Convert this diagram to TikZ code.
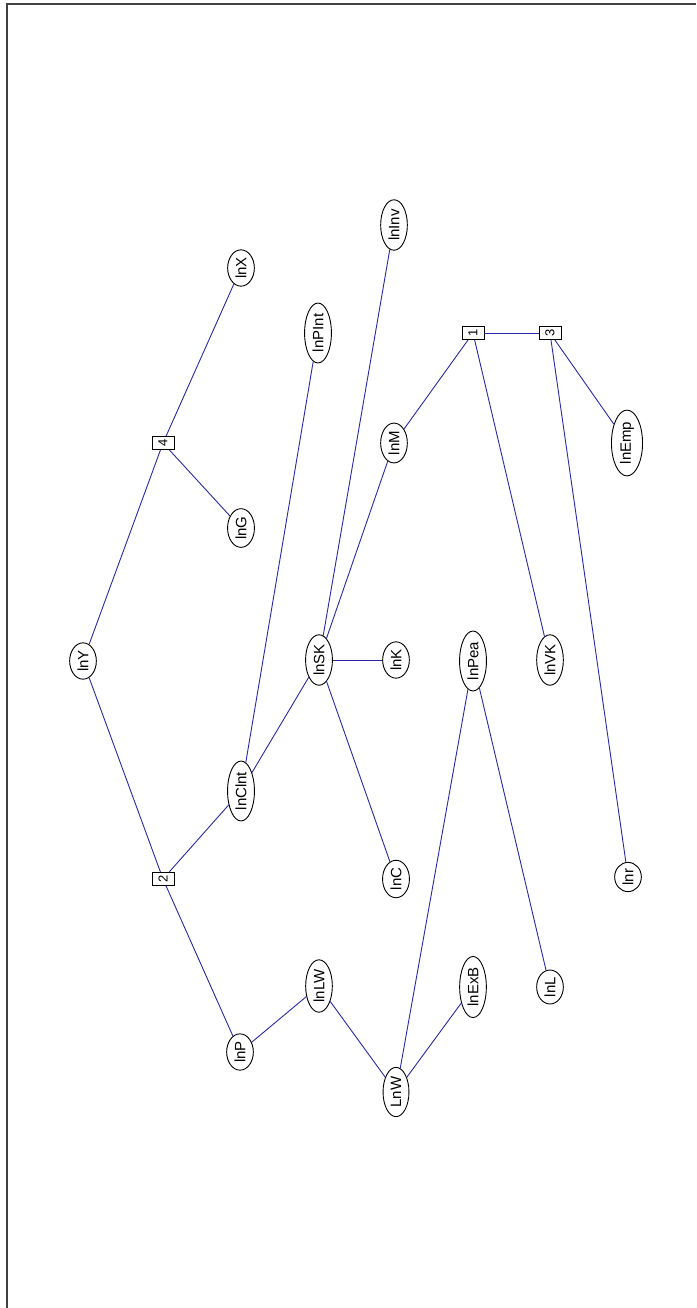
\documentclass[tikz,border=0pt]{standalone}
\usepackage{fontspec}
\setmainfont{Liberation Sans}
\usetikzlibrary{shapes.geometric}
\definecolor{edgeblue}{RGB}{40,40,170}
\begin{document}
\begin{tikzpicture}[x=1pt,y=1pt,
  var/.style={ellipse,draw=black,line width=0.9pt,rotate=90,inner xsep=2pt,inner ysep=4pt,font=\fontsize{15}{17}\selectfont,fill=white},
  fac/.style={rectangle,draw=black,line width=0.9pt,rotate=90,minimum width=13pt,minimum height=22pt,inner sep=0pt,font=\fontsize{13}{15}\selectfont,fill=white},
  link/.style={draw=edgeblue,line width=0.9pt}]
\useasboundingbox (0,0) rectangle (696,-1308);
\draw[line width=1.5pt,black!75] (7,-1308) -- (7,-4) -- (696,-4);
% nodes
\node[var] (lnX) at (241,-268) {lnX};
\node[fac] (f4) at (163,-443) {4};
\node[var] (lnG) at (241,-528) {lnG};
\node[var] (lnY) at (83,-661) {lnY};
\node[fac] (f2) at (163,-879) {2};
\node[var] (lnClnt) at (241,-791) {lnClnt};
\node[var] (lnPInt) at (318,-333) {lnPInt};
\node[var] (lnInv) at (394,-225) {lnInv};
\node[var] (lnM) at (394,-443) {lnM};
\node[var] (lnSK) at (319,-660) {lnSK};
\node[var] (lnK) at (396,-660) {lnK};
\node[var] (lnC) at (396,-879) {lnC};
\node[var] (lnPea) at (473,-661) {lnPea};
\node[var] (lnVK) at (550,-660) {lnVK};
\node[fac] (f1) at (473,-333) {1};
\node[fac] (f3) at (550,-333) {3};
\node[var] (lnEmp) at (627,-443) {lnEmp};
\node[var] (lnr) at (628,-877) {lnr};
\node[var] (lnP) at (240,-1052) {lnP};
\node[var] (lnLW) at (319,-986) {lnLW};
\node[var] (LnW) at (396,-1092) {LnW};
\node[var] (lnExB) at (473,-987) {lnExB};
\node[var] (lnL) at (550,-987) {lnL};
% edges
\path[link] (lnY) -- (f4);
\path[link] (f4) -- (lnX);
\path[link] (f4) -- (lnG);
\path[link] (lnY) -- (f2);
\path[link] (f2) -- (lnClnt);
\path[link] (f2) -- (lnP);
\path[link] (lnClnt) -- (lnPInt);
\path[link] (lnClnt) -- (lnSK);
\path[link] (lnSK) -- (lnInv);
\path[link] (lnSK) -- (lnM);
\path[link] (lnSK) -- (lnK);
\path[link] (lnSK) -- (lnC);
\path[link] (lnM) -- (f1);
\path[link] (f1) -- (f3);
\path[link] (f1) -- (lnVK);
\path[link] (f3) -- (lnEmp);
\path[link] (f3) -- (lnr);
\path[link] (lnP) -- (lnLW);
\path[link] (lnLW) -- (LnW);
\path[link] (LnW) -- (lnPea);
\path[link] (LnW) -- (lnExB);
\path[link] (lnPea) -- (lnL);
\end{tikzpicture}
\end{document}
